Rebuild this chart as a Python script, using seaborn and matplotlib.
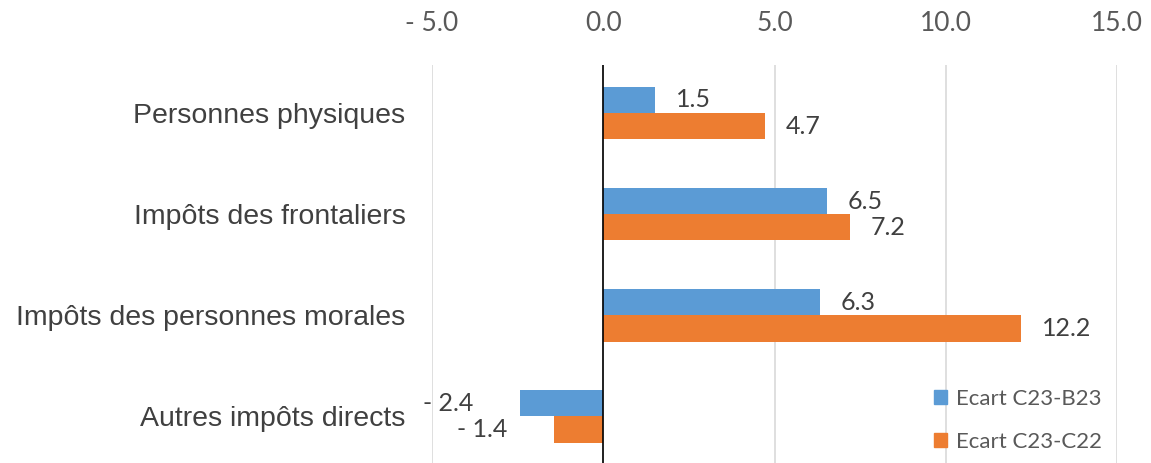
import pandas as pd
import matplotlib
matplotlib.use('Agg')
import matplotlib.pyplot as plt
import matplotlib.ticker as mticker
from matplotlib.patches import Patch
import seaborn as sns

# données
categories = ['Personnes physiques', 'Impôts des frontaliers',
              'Impôts des personnes morales', 'Autres impôts directs']
ecart_b23 = [1.52, 6.54, 6.33, -2.44]
ecart_c22 = [4.73, 7.2, 12.2, -1.45]
series = ['Ecart C23-B23', 'Ecart C23-C22']
colors = ['#5B9BD5', '#ED7D31']

data = pd.DataFrame({
    'categorie': categories * 2,
    'serie': [series[0]] * 4 + [series[1]] * 4,
    'valeur': ecart_b23 + ecart_c22,
})

sns.set_style("white")
plt.rcParams['font.family'] = ['Lato', 'DejaVu Sans']

fig = plt.figure(figsize=(11.51, 4.63), dpi=100)
ax = fig.add_axes([0.3753, 0.0, 0.5952, 0.8596])

sns.barplot(data=data, y='categorie', x='valeur', hue='serie', orient='h',
            palette=colors, saturation=1, width=0.52, gap=0, linewidth=0,
            ax=ax, legend=False)

ax.set_xlim(-5, 15)
ax.set_ylim(3.46, -0.475)
ax.set_xticks([-5, 0, 5, 10, 15])
ax.xaxis.set_major_formatter(mticker.FuncFormatter(
    lambda v, p: f"- {abs(v):.1f}" if v < 0 else f"{v:.1f}"))
ax.xaxis.tick_top()
ax.tick_params(axis='x', length=0, pad=21, labelsize=19, labelcolor='#595959')
ax.tick_params(axis='y', length=0, pad=19, labelsize=20.5, labelcolor='#404040')
for lbl in ax.get_yticklabels():
    lbl.set_family(['Liberation Sans', 'DejaVu Sans'])
ax.set_xlabel('')
ax.set_ylabel('')
ax.grid(axis='x', color='#D9D9D9', linewidth=1.2)
ax.set_axisbelow(True)
for s in ax.spines.values():
    s.set_visible(False)
ax.axvline(0, color='black', linewidth=1.2, zorder=3)

# étiquettes
def fmt(v):
    return f"- {abs(v):.1f}" if v < 0 else f"{v:.1f}"

for bars in ax.containers:
    for rect in bars:
        v = rect.get_width()
        yc = rect.get_y() + rect.get_height() / 2
        if v >= 0:
            ax.annotate(fmt(v), (v, yc), xytext=(15, 0), textcoords='offset points',
                        ha='left', va='center', fontsize=18, color='#404040')
        else:
            ax.annotate(fmt(v), (v, yc), xytext=(-33, 0), textcoords='offset points',
                        ha='right', va='center', fontsize=18, color='#404040')

handles = [Patch(color=c, label=s) for c, s in zip(colors, series)]
fig.legend(handles=handles, loc='lower right', bbox_to_anchor=(0.975, -0.02),
           frameon=False, fontsize=16, labelcolor='#595959',
           handlelength=0.6, handleheight=0.6, handletextpad=0.4, labelspacing=1.05)

plt.savefig('out.png', dpi=100)
